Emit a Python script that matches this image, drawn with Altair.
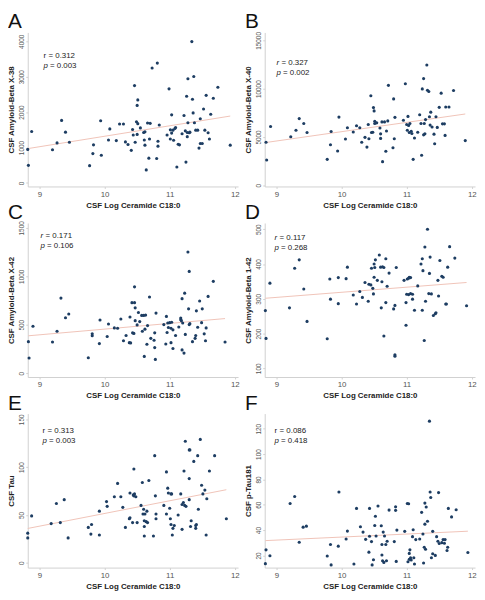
import altair as alt
import pandas as pd

FONT = "Liberation Sans"
NAVY = "#1d3d62"
FIT = "#f0c3b8"

x_ticks = [9, 10, 11, 12]
x_title = "CSF Log Ceramide C18:0"

letters = ["A", "B", "C", "D", "E", "F"]
y_titles = ["CSF Amyloid-Beta X-38", "CSF Amyloid-Beta X-40", "CSF Amyloid-Beta X-42",
            "CSF Amyloid-Beta 1-42", "CSF Tau", "CSF p-Tau181"]
r_vals = ["0.312", "0.327", "0.171", "0.117", "0.313", "0.086"]
p_vals = ["0.003", "0.002", "0.106", "0.268", "0.003", "0.418"]
r_italic = [False, True, True, True, False, False]
y_domains = [[-100, 4250], [-130, 15830], [-40, 1550], [75, 518], [-5, 156], [10.4, 132]]
y_ticks = [[0, 1000, 2000, 3000, 4000], [0, 5000, 10000, 15000], [0, 500, 1000, 1500],
           [100, 200, 300, 400, 500], [0, 50, 100, 150], [20, 40, 60, 80, 100, 120]]

a_x = [8.82, 8.83, 8.88, 9.20, 9.27, 9.34, 9.40, 9.46, 9.77, 9.82,
       9.83, 9.94, 9.95, 10.06, 10.08, 10.18, 10.23, 10.29, 10.32, 10.36,
       10.41, 10.43, 10.44, 10.46, 10.47, 10.49, 10.50, 10.50, 10.51, 10.51,
       10.55, 10.60, 10.61, 10.62, 10.62, 10.64, 10.66, 10.68, 10.69, 10.70,
       10.73, 10.80, 10.81, 10.82, 10.82, 10.84, 10.96, 10.99, 11.01, 11.01,
       11.03, 11.03, 11.05, 11.06, 11.08, 11.09, 11.11, 11.13, 11.15, 11.19,
       11.22, 11.24, 11.25, 11.26, 11.27, 11.27, 11.28, 11.28, 11.30, 11.31,
       11.34, 11.35, 11.36, 11.37, 11.38, 11.40, 11.43, 11.45, 11.47, 11.47,
       11.50, 11.52, 11.54, 11.56, 11.59, 11.61, 11.63, 11.67, 11.74, 11.93]
a_y = [947, 497, 1453, 938, 1131, 1766, 1434, 1149, 487, 828,
       1076, 1756, 782, 1214, 1526, 1195, 1664, 1664, 1159, 1085,
       920, 1508, 1352, 2749, 1149, 1729, 1370, 2189, 2345, 1674,
       1554, 1425, 1214, 1067, 1443, 368, 1692, 699, 1241, 1683,
       3246, 690, 3384, 1177, 1039, 1637, 1352, 2657, 1499, 1241,
       1922, 1407, 1490, 1205, 1536, 1563, 451, 1094, 1076, 1388,
       1903, 1471, 588, 2446, 1306, 1425, 1701, 2943, 1416, 1434,
       3991, 2363, 1977, 3007, 1701, 1490, 1490, 984, 1113, 1811,
       1113, 2087, 1490, 2474, 1416, 1241, 1940, 2391, 2703, 1067]

b_x = [8.84, 8.85, 8.91, 9.22, 9.30, 9.35, 9.42, 9.47, 9.78, 9.83,
       9.84, 9.94, 9.96, 10.06, 10.09, 10.18, 10.23, 10.28, 10.31, 10.36,
       10.39, 10.41, 10.42, 10.45, 10.46, 10.48, 10.49, 10.50, 10.51, 10.51,
       10.54, 10.59, 10.60, 10.60, 10.62, 10.63, 10.66, 10.68, 10.69, 10.71,
       10.72, 10.79, 10.80, 10.81, 10.82, 10.95, 10.98, 11.00, 11.01, 11.02,
       11.03, 11.04, 11.05, 11.07, 11.08, 11.10, 11.12, 11.17, 11.20, 11.22,
       11.23, 11.24, 11.26, 11.26, 11.27, 11.28, 11.29, 11.31, 11.32, 11.34,
       11.35, 11.36, 11.37, 11.39, 11.42, 11.43, 11.45, 11.47, 11.50, 11.53,
       11.55, 11.58, 11.59, 11.60, 11.65, 11.72, 11.90]
b_y = [4450, 2610, 6090, 5020, 5690, 6900, 6390, 5460, 2680, 4190,
       5560, 3550, 7060, 4790, 5960, 5520, 6160, 5960, 4450, 4960,
       3950, 6290, 4820, 9270, 5460, 5490, 8040, 7700, 6630, 6390,
       6460, 5930, 5320, 4850, 6560, 2440, 6560, 3520, 5620, 6660,
       10350, 3880, 8940, 4820, 7030, 6730, 10510, 6290, 5690, 7130,
       6190, 5460, 6390, 5590, 5360, 2680, 4890, 5490, 7300, 6390,
       3110, 9980, 5220, 11050, 6390, 5320, 6800, 12450, 9840, 9710,
       7100, 6230, 7570, 6030, 5290, 4290, 7100, 5990, 8070, 9540,
       6360, 6360, 5160, 8100, 8100, 9810, 4620]

c_x = [8.83, 8.84, 8.90, 9.20, 9.27, 9.33, 9.40, 9.45, 9.75, 9.81,
       9.81, 9.92, 9.93, 10.04, 10.06, 10.15, 10.20, 10.25, 10.29, 10.33,
       10.38, 10.40, 10.39, 10.42, 10.43, 10.45, 10.46, 10.46, 10.47, 10.47,
       10.50, 10.52, 10.54, 10.57, 10.58, 10.60, 10.61, 10.62, 10.63, 10.65,
       10.66, 10.69, 10.71, 10.76, 10.77, 10.77, 10.78, 10.79, 10.91, 10.94,
       10.95, 10.96, 10.97, 10.98, 11.00, 11.02, 11.02, 11.03, 11.05, 11.05,
       11.09, 11.14, 11.17, 11.17, 11.18, 11.19, 11.19, 11.20, 11.22, 11.23,
       11.24, 11.28, 11.29, 11.30, 11.30, 11.31, 11.35, 11.39, 11.40, 11.41,
       11.43, 11.46, 11.49, 11.50, 11.53, 11.55, 11.56, 11.59, 11.67, 11.85]
c_y = [325, 156, 484, 322, 433, 775, 572, 610, 159, 386,
       406, 305, 549, 379, 508, 467, 464, 559, 335, 389,
       315, 312, 579, 728, 416, 410, 891, 728, 674, 542,
       498, 626, 532, 596, 433, 596, 173, 454, 599, 298,
       491, 786, 359, 339, 416, 264, 142, 620, 501, 301,
       586, 420, 518, 471, 521, 315, 464, 525, 254, 447,
       389, 477, 569, 552, 542, 240, 769, 518, 207, 826,
       400, 1250, 664, 1050, 501, 511, 325, 359, 389, 643,
       474, 745, 521, 664, 406, 335, 467, 792, 948, 322]

d_x = [8.83, 8.84, 8.90, 9.20, 9.28, 9.35, 9.42, 9.47, 9.78, 9.82,
       9.83, 9.95, 9.95, 10.07, 10.09, 10.18, 10.23, 10.28, 10.32, 10.36,
       10.41, 10.42, 10.45, 10.46, 10.48, 10.49, 10.50, 10.50, 10.51, 10.52,
       10.55, 10.58, 10.60, 10.61, 10.62, 10.63, 10.65, 10.65, 10.68, 10.68,
       10.70, 10.73, 10.80, 10.82, 10.82, 10.82, 10.84, 10.96, 10.99, 10.99,
       11.00, 11.01, 11.03, 11.03, 11.04, 11.06, 11.06, 11.09, 11.09, 11.12,
       11.17, 11.22, 11.24, 11.24, 11.25, 11.27, 11.28, 11.29, 11.32, 11.34,
       11.35, 11.36, 11.38, 11.41, 11.44, 11.45, 11.48, 11.49, 11.51, 11.54,
       11.56, 11.60, 11.61, 11.63, 11.66, 11.74, 11.92]
d_y = [266, 186, 345, 274, 388, 412, 328, 235, 185, 357,
       299, 286, 361, 358, 391, 311, 285, 321, 304, 347,
       293, 342, 340, 388, 330, 314, 362, 400, 390, 412,
       353, 426, 391, 274, 349, 392, 390, 193, 289, 415,
       336, 374, 271, 139, 135, 281, 390, 353, 289, 224,
       313, 357, 359, 312, 362, 361, 315, 299, 313, 267,
       337, 400, 415, 267, 381, 180, 449, 293, 500, 315,
       373, 420, 314, 252, 257, 260, 353, 308, 410, 365,
       362, 285, 285, 391, 450, 417, 280]

e_x = [8.82, 8.82, 8.88, 9.18, 9.26, 9.32, 9.38, 9.44, 9.75, 9.80,
       9.79, 9.92, 9.92, 10.03, 10.04, 10.15, 10.20, 10.25, 10.28, 10.32,
       10.38, 10.39, 10.39, 10.43, 10.44, 10.45, 10.45, 10.46, 10.48, 10.50,
       10.56, 10.58, 10.59, 10.60, 10.61, 10.61, 10.62, 10.64, 10.65, 10.66,
       10.61, 10.68, 10.75, 10.77, 10.78, 10.79, 10.79, 10.91, 10.95, 10.95,
       10.97, 10.98, 11.00, 11.01, 11.02, 11.02, 11.03, 11.04, 11.05, 11.07,
       11.13, 11.17, 11.19, 11.19, 11.21, 11.22, 11.23, 11.24, 11.25, 11.30,
       11.30, 11.31, 11.30, 11.32, 11.33, 11.37, 11.40, 11.40, 11.41, 11.43,
       11.44, 11.47, 11.49, 11.51, 11.54, 11.56, 11.57, 11.61, 11.69, 11.87]
e_y = [31, 26, 49, 41, 62, 42, 66, 26, 37, 40,
       30, 29, 54, 64, 59, 69, 83, 69, 58, 37,
       46, 47, 73, 42, 71, 98, 70, 72, 69, 42,
       60, 84, 51, 56, 44, 38, 51, 43, 54, 42,
       28, 86, 28, 112, 70, 51, 46, 60, 95, 51,
       78, 73, 57, 46, 40, 72, 72, 29, 36, 39,
       50, 72, 35, 61, 63, 96, 60, 127, 59, 118,
       66, 118, 88, 38, 44, 106, 39, 36, 40, 112,
       56, 129, 81, 72, 76, 29, 67, 96, 112, 46]

f_x = [8.83, 8.84, 8.90, 9.21, 9.28, 9.35, 9.41, 9.46, 9.78, 9.83,
       9.84, 9.95, 9.96, 10.07, 10.09, 10.19, 10.23, 10.29, 10.33, 10.37,
       10.42, 10.43, 10.43, 10.46, 10.47, 10.49, 10.51, 10.52, 10.53, 10.56,
       10.61, 10.62, 10.62, 10.63, 10.64, 10.65, 10.66, 10.68, 10.69, 10.70,
       10.73, 10.81, 10.83, 10.83, 10.84, 10.85, 10.97, 11.01, 11.02, 11.03,
       11.04, 11.04, 11.05, 11.06, 11.07, 11.09, 11.10, 11.11, 11.12, 11.14,
       11.20, 11.23, 11.25, 11.26, 11.27, 11.28, 11.28, 11.29, 11.30, 11.32,
       11.35, 11.36, 11.37, 11.38, 11.40, 11.40, 11.44, 11.46, 11.48, 11.49,
       11.50, 11.54, 11.56, 11.58, 11.59, 11.62, 11.63, 11.64, 11.69, 11.76,
       11.94]
f_y = [13.5, 24.4, 19.7, 61.0, 66.5, 30.4, 42.3, 43.1, 19.5, 28.6,
       12.5, 27.3, 70.1, 33.0, 39.2, 13.2, 57.1, 42.6, 38.4, 32.7,
       22.6, 35.1, 57.1, 30.9, 12.5, 16.6, 43.6, 50.9, 35.3, 59.0,
       43.4, 28.6, 20.3, 15.8, 38.4, 14.5, 35.3, 28.6, 15.8, 31.2,
       55.8, 30.9, 58.4, 55.6, 15.3, 40.0, 39.0, 61.0, 15.0, 60.8,
       21.6, 16.9, 24.4, 18.2, 16.4, 34.8, 40.3, 18.2, 13.2, 32.5,
       33.0, 54.0, 36.9, 14.0, 26.5, 61.3, 44.7, 24.9, 58.2, 47.0,
       126.0, 70.1, 65.7, 18.2, 39.0, 21.3, 20.0, 34.8, 31.2, 69.6,
       29.4, 30.1, 32.5, 29.6, 32.5, 23.9, 26.5, 57.1, 50.4, 56.1,
       22.3]

xs_all = [a_x, b_x, c_x, d_x, e_x, f_x]
ys_all = [a_y, b_y, c_y, d_y, e_y, f_y]

# layout (pixels relative to each plot area): annotation positions
ann_pos = [(16, 24), (12, 31), (13, 13), (10, 15), (15, 18), (10, 18)]

W, H = 213, 156


def panel(i):
    df = pd.DataFrame({"x": xs_all[i], "y": ys_all[i]})

    def xenc():
        return alt.X("x:Q",
                     scale=alt.Scale(domain=[8.82, 12.05], nice=False, zero=False),
                     axis=alt.Axis(values=x_ticks, title=x_title, format="d",
                                   labelOverlap=False))

    def yenc():
        return alt.Y("y:Q",
                     scale=alt.Scale(domain=y_domains[i], nice=False, zero=False),
                     axis=alt.Axis(values=y_ticks[i], title=y_titles[i], labelAngle=270,
                                   format="d", labelOverlap=False))

    fit = alt.Chart(df).transform_regression("x", "y").mark_line(
        color=FIT, strokeWidth=1).encode(x=xenc(), y=yenc())
    pts = alt.Chart(df).mark_circle(size=10, color=NAVY, opacity=1).encode(x=xenc(), y=yenc())

    ax, ay = ann_pos[i]
    letter = alt.Chart(pd.DataFrame({"t": [letters[i]]})).mark_text(
        align="left", baseline="alphabetic", fontSize=21, font=FONT, color="#111"
    ).encode(text="t:N", x=alt.value(-20), y=alt.value(-4))

    rsym = alt.Chart(pd.DataFrame({"t": ["r"]})).mark_text(
        align="left", baseline="middle", fontSize=8, font=FONT, color="#222",
        fontStyle="italic" if r_italic[i] else "normal"
    ).encode(text="t:N", x=alt.value(ax), y=alt.value(ay))
    rrest = alt.Chart(pd.DataFrame({"t": ["= " + r_vals[i]]})).mark_text(
        align="left", baseline="middle", fontSize=8, font=FONT, color="#222"
    ).encode(text="t:N", x=alt.value(ax + 5), y=alt.value(ay))
    psym = alt.Chart(pd.DataFrame({"t": ["p"]})).mark_text(
        align="left", baseline="middle", fontSize=8, font=FONT, color="#222",
        fontStyle="italic"
    ).encode(text="t:N", x=alt.value(ax), y=alt.value(ay + 10))
    prest = alt.Chart(pd.DataFrame({"t": ["= " + p_vals[i]]})).mark_text(
        align="left", baseline="middle", fontSize=8, font=FONT, color="#222"
    ).encode(text="t:N", x=alt.value(ax + 6.5), y=alt.value(ay + 10))

    return alt.layer(fit, pts, letter, rsym, rrest, psym, prest).properties(width=W, height=H)


chart = alt.concat(*[panel(i) for i in range(6)], columns=2,
                   spacing={"row": 37, "column": 27}, bounds="flush")
chart = chart.properties(padding=0).configure_view(stroke=None).configure_axis(
    grid=False, domainColor="#d0d0d0", tickColor="#d0d0d0", tickSize=2,
    labelColor="#555555", labelFont=FONT, titleFont=FONT, titleColor="#222222",
    titleFontWeight="bold", titleFontSize=8, labelOverlap=False
).configure_axisX(labelFontSize=8, labelPadding=2, titlePadding=3
).configure_axisY(labelFontSize=6.5, labelPadding=1, titlePadding=3)

chart.save("out.html", embed_options={"renderer": "svg", "actions": False})
